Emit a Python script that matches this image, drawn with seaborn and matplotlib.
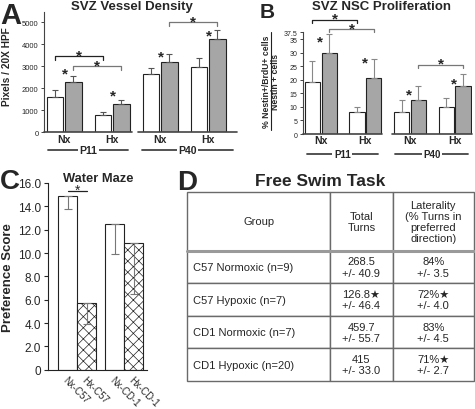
import numpy as np
import pandas as pd
import matplotlib
matplotlib.use('Agg')
import matplotlib.pyplot as plt
import seaborn as sns

# A - SVZ vessel density (pixels / 20X HPF), white = first bar, gray = second bar
a_groups = ['P11 Nx', 'P11 Hx', 'P40 Nx', 'P40 Hx']
a_ticks = ['Nx', 'Hx', 'Nx', 'Hx']
a_white = [1620, 790, 2640, 2980]
a_white_err = [320, 120, 290, 380]
a_gray = [2270, 1270, 3180, 4240]
a_gray_err = [275, 200, 380, 425]
a_star_y = [2880, 1880, 3640, 4620]

# B - SVZ NSC proliferation (%)
b_white = [19.3, 8.0, 8.1, 9.8]
b_white_err = [7.5, 1.8, 4.3, 3.6]
b_gray = [29.7, 20.7, 12.4, 17.6]
b_gray_err = [7.2, 7.0, 5.2, 4.4]
b_star_y = [35.7, 27.9, 16.3, 20.3]

# C - water maze preference score
c_strains = ['C57', 'CD-1']
c_nx = [14.9, 12.5]
c_nx_err = [1.1, 2.6]
c_hx = [5.7, 10.9]
c_hx_err = [1.8, 4.4]
c_labels = ['Nx-C57', 'Hx-C57', 'Nx-CD-1', 'Hx-CD-1']

# D - free swim task table
d_header = ['Group', 'Total\nTurns', 'Laterality\n(% Turns in\npreferred\ndirection)']
d_groups = ['C57 Normoxic (n=9)', 'C57 Hypoxic (n=7)', 'CD1 Normoxic (n=7)', 'CD1 Hypoxic (n=20)']
d_turns = ['268.5\n+/- 40.9', '126.8\u2605\n+/- 46.4', '459.7\n+/- 55.7', '415\n+/- 33.0']
d_lat = ['84%\n+/- 3.5', '72%\u2605\n+/- 4.0', '83%\n+/- 4.5', '71%\u2605\n+/- 2.7']

sns.set_style('ticks')
plt.rcParams['font.family'] = ['Liberation Sans', 'DejaVu Sans']
plt.rcParams['hatch.linewidth'] = 0.5
AX = '#444444'

W, H = 475, 410
fig = plt.figure(figsize=(4.75, 4.1), dpi=100)


def box(l, t, r, b):
    return [l / W, 1 - b / H, (r - l) / W, (b - t) / H]


def paired_bars(ax, groups, first, second, width, gap, colors):
    n = len(groups)
    df = pd.DataFrame({'group': groups * 2, 'val': first + second,
                       'cond': ['a'] * n + ['b'] * n})
    sns.barplot(data=df, x='group', y='val', hue='cond', order=groups,
                palette={'a': colors[0], 'b': colors[1]}, edgecolor='#222222',
                linewidth=0.8, width=width, gap=gap, errorbar=None,
                legend=False, ax=ax)
    return list(ax.containers[0]), list(ax.containers[1])


def errs(ax, bars, e, up=True, color='#555555', cap=2.5):
    for bar, v in zip(bars, e):
        x = bar.get_x() + bar.get_width() / 2
        yerr = [[0], [v]] if up else [[v], [0]]
        ax.errorbar(x, bar.get_height(), yerr=yerr, fmt='none', ecolor=color,
                    elinewidth=0.8, capsize=cap, capthick=0.8, zorder=3)


def cx(bar):
    return bar.get_x() + bar.get_width() / 2


def star(ax, x, y, fs=11, dy=0, bold=True):
    # asterisk centred on (x, y), shifted dy points upwards
    ax.annotate('*', (x, y), xytext=(0, dy - 0.56 * fs), textcoords='offset points',
                ha='center', va='baseline', fontsize=fs,
                fontweight='bold' if bold else 'normal', annotation_clip=False)


def bracket(ax, x1, x2, y, h, color):
    ax.plot([x1, x1, x2, x2], [y - h, y, y, y - h], color=color, lw=0.9, clip_on=False)
    star(ax, (x1 + x2) / 2, y, dy=4)


def style_bar_axes(ax, ticks, fs_y, fs_x):
    sns.despine(ax=ax)
    ax.spines['bottom'].set_visible(False)
    ax.spines['left'].set_color(AX)
    ax.set_xlabel('')
    ax.set_ylabel('')
    ax.set_xticks(range(len(ticks)))
    ax.set_xticklabels(ticks, fontsize=fs_x, fontweight='bold')
    ax.tick_params(axis='x', length=0, pad=1)
    ax.tick_params(axis='y', labelsize=fs_y, length=2.5, width=0.7, color=AX, pad=1.5)


def group_lines(ax, segs, ylab, fs):
    trans = ax.get_xaxis_transform()
    for (x0, x1), lab in zip(segs, ['P11', 'P40']):
        ax.plot([x0, x1], [0, 0], color=AX, lw=1.2, clip_on=False)
        ax.plot([x0 + 0.08, x1 - 0.08], [ylab, ylab], color=AX, lw=1.3,
                transform=trans, clip_on=False)
        ax.text((x0 + x1) / 2, ylab, lab, transform=trans, ha='center', va='center',
                fontsize=fs, fontweight='bold',
                bbox=dict(facecolor='white', edgecolor='none', pad=1.2))


def panel_letter(x, base, letter, fs):
    fig.text(x / W, 1 - base / H, letter, ha='left', va='baseline', fontsize=fs,
             fontweight='bold')


# ---------- A ----------
ax = fig.add_axes(box(44, 13, 237, 133.3))
wb, gb = paired_bars(ax, a_groups, a_white, a_gray, 0.77, 0.1, ['white', '#a6a6a6'])
errs(ax, wb, a_white_err)
errs(ax, gb, a_gray_err)
ax.set_xlim(-0.42, 3.6)
ax.set_ylim(0, 5470)
ax.set_yticks([0, 1000, 2000, 3000, 4000, 5000])
style_bar_axes(ax, a_ticks, 5.5, 7.5)
group_lines(ax, [(-0.42, 1.42), (1.54, 3.6)], -0.15, 7.5)
for bar, y in zip(gb, a_star_y):
    star(ax, bar.get_x(), y)
bracket(ax, cx(wb[0]), cx(wb[1]), 3470, 180, '#222222')
bracket(ax, cx(gb[0]), cx(gb[1]), 3010, 180, '#777777')
bracket(ax, cx(gb[2]), cx(gb[3]), 5010, 180, '#777777')
fig.text(132 / W, 1 - 7 / H, 'SVZ Vessel Density', ha='center', va='center',
         fontsize=9.5, fontweight='bold')
panel_letter(0, 24.5, 'A', 21)
fig.text(7 / W, 1 - 67 / H, 'Pixels / 20X HPF', rotation=90, ha='center', va='center',
         fontsize=7.3, fontweight='bold')

# ---------- B ----------
ax = fig.add_axes(box(303, 33.3, 472, 135))
wb, gb = paired_bars(ax, a_groups, b_white, b_gray, 0.75, 0.08, ['white', '#a6a6a6'])
errs(ax, wb, b_white_err, color='#888888')
errs(ax, gb, b_gray_err, color='#888888')
ax.set_xlim(-0.40, 3.39)
ax.set_ylim(0, 37.5)
ax.set_yticks([0, 5, 10, 15, 20, 25, 30, 35, 37.5])
ax.set_yticklabels(['0', '5', '10', '15', '20', '25', '30', '35', '37.5'])
style_bar_axes(ax, a_ticks, 5, 7.5)
group_lines(ax, [(-0.40, 1.37), (1.59, 3.39)], -0.2, 7)
for bar, y in zip(gb, b_star_y):
    star(ax, bar.get_x() - 0.03, y)
bracket(ax, cx(wb[0]), cx(wb[1]), 42.1, 1.2, '#222222')
bracket(ax, cx(gb[0]), cx(gb[1]), 38.7, 1.2, '#777777')
bracket(ax, cx(gb[2]), cx(gb[3]), 25.6, 1.2, '#777777')
fig.text(382 / W, 1 - 7 / H, 'SVZ NSC Proliferation', ha='center', va='center',
         fontsize=9.5, fontweight='bold')
panel_letter(260, 17.5, 'B', 15)
fig.text(266.5 / W, 1 - 82 / H, '% Nestin+/BrdU+ cells', rotation=90, ha='center',
         va='center', fontsize=6.2, fontweight='bold')
fig.text(276 / W, 1 - 82 / H, 'Nestin + cells', rotation=90, ha='center',
         va='center', fontsize=6.2, fontweight='bold')
fig.add_artist(plt.Line2D([271 / W, 271 / W], [1 - 131 / H, 1 - 33 / H], color='#222222', lw=0.8))

# ---------- C ----------
ax = fig.add_axes(box(48, 184, 146.7, 370.7))
nb, hb = paired_bars(ax, c_strains, c_nx, c_hx, 0.81, 0, ['white', 'white'])
for bar in hb:
    bar.set_hatch('xxx')
errs(ax, nb, c_nx_err, up=False, color='#777777', cap=3)
errs(ax, hb, c_hx_err, up=False, color='#777777', cap=3)
ax.set_xlim(-0.62, 1.48)
ax.set_ylim(0, 16)
sns.despine(ax=ax)
for s in ['left', 'bottom']:
    ax.spines[s].set_color('#222222')
ax.set_xlabel('')
ax.set_ylabel('Preference Score', fontsize=9.5, fontweight='bold', labelpad=3)
ax.set_yticks(np.arange(0, 17, 2))
ax.set_yticklabels(['0'] + ['%.1f' % v for v in np.arange(2, 17, 2)])
centers = [cx(b) for pair in zip(nb, hb) for b in pair]
ax.set_xticks(centers)
ax.set_xticklabels(c_labels, rotation=-45, ha='left', va='top', rotation_mode='anchor',
                   fontsize=7)
ax.tick_params(axis='x', length=0, pad=3)
ax.tick_params(axis='y', labelsize=8.5, length=3, width=0.8, pad=2)
ax.plot([cx(nb[0]), cx(hb[0])], [15.35, 15.35], color='#222222', lw=0.9, clip_on=False)
star(ax, (cx(nb[0]) + cx(hb[0])) / 2, 15.35, fs=10, dy=3.5, bold=False)
fig.text(98 / W, 1 - 179 / H, 'Water Maze', ha='center', va='center', fontsize=9.3,
         fontweight='bold')
panel_letter(0, 189, 'C', 20)

# ---------- D ----------
ax = fig.add_axes(box(187.3, 193.3, 474, 382))
ax.axis('off')
rows = [d_header] + [[g, t, l] for g, t, l in zip(d_groups, d_turns, d_lat)]
tab = ax.table(cellText=rows, cellLoc='center', bbox=[0, 0, 1, 1],
               colWidths=[142.7, 62.7, 81.3])
tab.auto_set_font_size(False)
tab.set_fontsize(8)
for (r, c), cell in tab.get_celld().items():
    cell.set_edgecolor('#6a6a6a')
    cell.set_linewidth(1.0)
    cell.set_height(58.4 if r == 0 else 32.6)
    cell.get_text().set_linespacing(1.15)
    if r > 0 and c == 0:
        cell._loc = 'left'
        cell.PAD = 0.04
        cell.get_text().set_ha('left')
ax.plot([0, 1], [1 - 58.4 / 188.7] * 2, color='#9a9a9a', lw=2.2, transform=ax.transAxes,
        clip_on=False, zorder=5)
fig.text(320 / W, 1 - 182 / H, 'Free Swim Task', ha='center', va='center', fontsize=12.5,
         fontweight='bold')
panel_letter(177, 190, 'D', 20)

fig.savefig('out.png', dpi=100, facecolor='white')
